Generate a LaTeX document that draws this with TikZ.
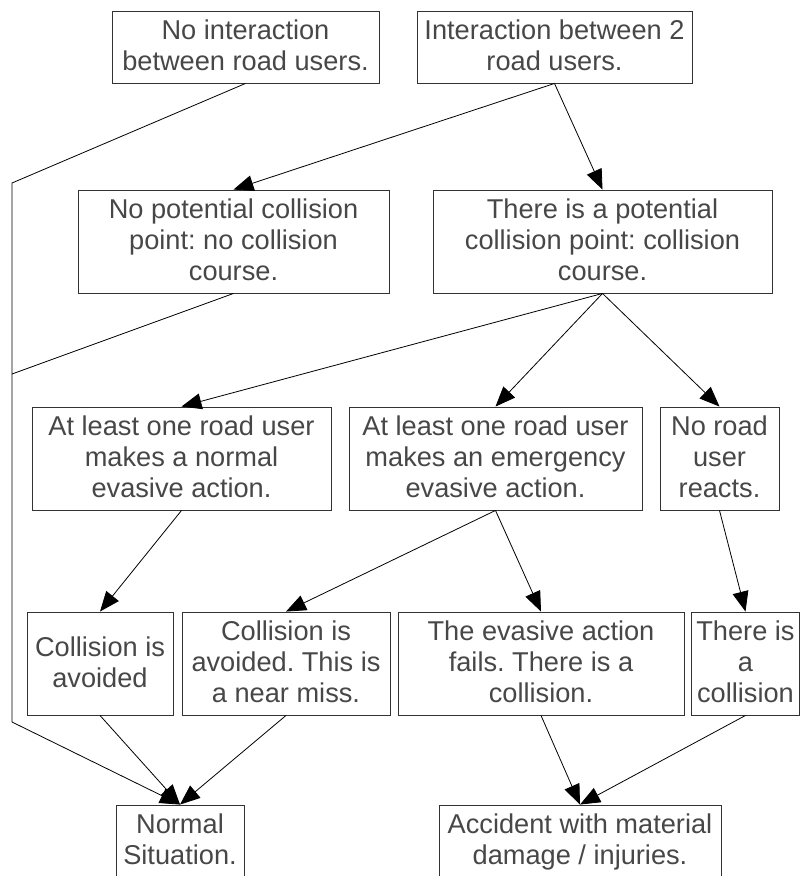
\documentclass[tikz,border=0pt]{standalone}
\usepackage{fontspec}
\setmainfont{Liberation Sans}
\usetikzlibrary{arrows.meta}
\frenchspacing
\newcommand\mystrut{\rule[-5pt]{0pt}{26pt}}
\tikzset{
  box/.style={draw=black!80, line width=0.9pt, rectangle, inner sep=0pt,
    align=center, text=black!72,
    font=\fontsize{27.2}{31}\selectfont\frenchspacing},
  conn/.style={draw=black, line width=0.8pt},
  arr/.style={conn, -{Triangle[length=20pt,width=16pt]}}
}
\begin{document}
\begin{tikzpicture}[x=1pt,y=-1pt]
\useasboundingbox (0,0) rectangle (800,876);
\clip (0,0) rectangle (800,876);
% row 1
\node[box, minimum width=267, minimum height=72] (n1) at (245.5,47)
  {\mystrut No interaction\\between road users.\mystrut};
\node[box, minimum width=275, minimum height=72] (n2) at (554.5,47)
  {\mystrut Interaction between 2\\road users.\mystrut};
% row 2
\node[box, minimum width=311, minimum height=103] (n3) at (233.5,241.5)
  {\mystrut No potential collision\\point: no collision\\course.\mystrut};
\node[box, minimum width=339, minimum height=103] (n4) at (602.5,241.5)
  {\mystrut There is a potential\\collision point: collision\\course.\mystrut};
% row 3
\node[box, minimum width=299, minimum height=103] (n5) at (181.5,458.5)
  {\mystrut At least one road user\\makes a normal\\evasive action.\mystrut};
\node[box, minimum width=293, minimum height=103] (n6) at (495.5,458.5)
  {\mystrut At least one road user\\makes an emergency\\evasive action.\mystrut};
\node[box, minimum width=119, minimum height=103] (n7) at (719.5,458.5)
  {\mystrut No road\\user\\reacts.\mystrut};
% row 4
\node[box, minimum width=146, minimum height=103] (n8) at (100,663.5)
  {\mystrut Collision is\\avoided\mystrut};
\node[box, minimum width=208, minimum height=103] (n9) at (286,663.5)
  {\mystrut Collision is\\avoided. This is\\a near miss.\mystrut};
\node[box, minimum width=286, minimum height=103] (n10) at (541,663.5)
  {\mystrut The evasive action\\fails. There is a\\collision.\mystrut};
\node[box, minimum width=108, minimum height=103] (n11) at (745.5,663.5)
  {\mystrut There is\\a\\collision\mystrut};
% row 5
\node[box, minimum width=128, minimum height=72] (n12) at (180,841)
  {\mystrut Normal\\Situation.\mystrut};
\node[box, minimum width=282, minimum height=72] (n13) at (580,841)
  {\mystrut Accident with material\\damage / injuries.\mystrut};
% free bend points of the left return line
\coordinate (L1) at (12,183);
\coordinate (L2) at (12,722);
\coordinate (L3) at (12,374);
% connectors
\draw[conn] (n1.south) -- (L1) -- (L2);
\draw[arr] (L2) -- (n12.north);
\draw[conn] (n3.south) -- (L3);
\draw[arr] (n2.south) -- (n3.north);
\draw[arr] (n2.south) -- (n4.north);
\draw[arr] (n4.south) -- (n5.north);
\draw[arr] (n4.south) -- (n6.north);
\draw[arr] (n4.south) -- (n7.north);
\draw[arr] (n5.south) -- (n8.north);
\draw[arr] (n6.south) -- (n9.north);
\draw[arr] (n6.south) -- (n10.north);
\draw[arr] (n7.south) -- (n11.north);
\draw[arr] (n8.south) -- (n12.north);
\draw[arr] (n9.south) -- (n12.north);
\draw[arr] (n10.south) -- (n13.north);
\draw[arr] (n11.south) -- (n13.north);
\end{tikzpicture}
\end{document}
